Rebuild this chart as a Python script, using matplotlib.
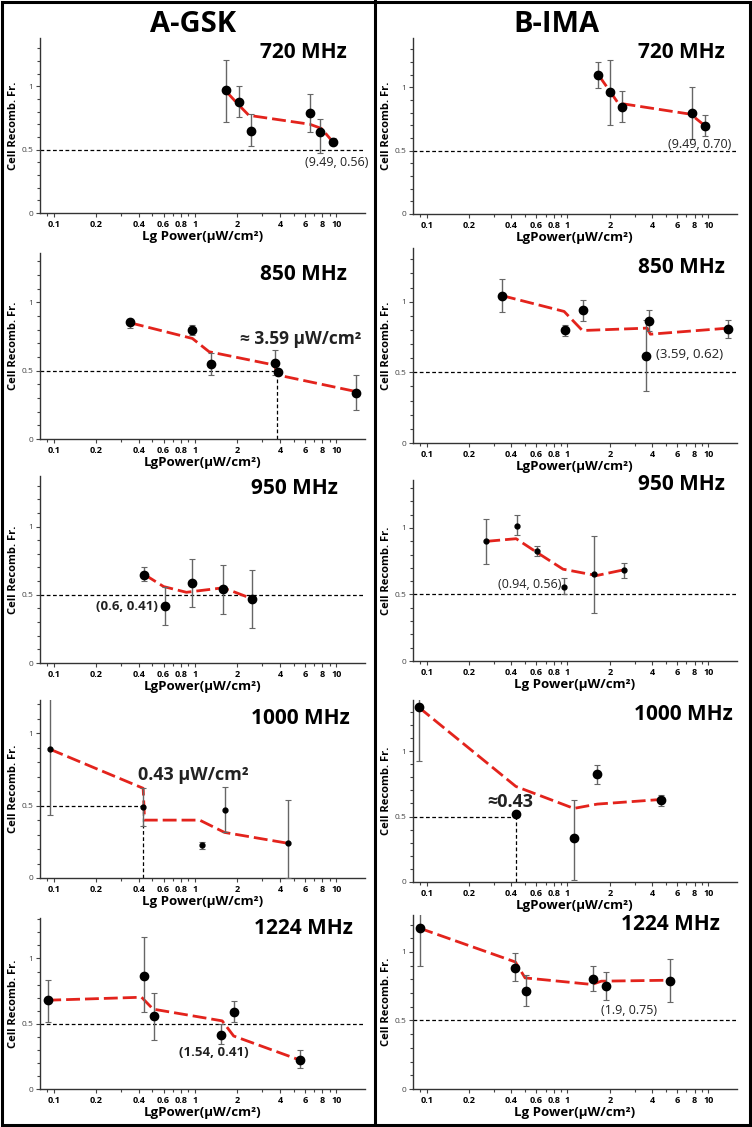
import matplotlib
matplotlib.use('Agg')
import matplotlib.pyplot as plt
from matplotlib.ticker import FixedLocator, MultipleLocator, NullFormatter
from matplotlib.lines import Line2D
from matplotlib.patches import Rectangle

plt.rcParams['font.family'] = ['Open Sans', 'DejaVu Sans']

# ---- data (power in uW/cm2, cell recombination fraction) ----
a720_x = [1.66, 2.05, 2.48, 6.56, 7.73, 9.49]
a720_y = [0.97, 0.876, 0.648, 0.785, 0.638, 0.562]
a720_lo = [0.72, 0.755, 0.53, 0.635, 0.476, 0.535]
a720_hi = [1.21, 1.00, 0.78, 0.94, 0.74, 0.59]
a720_fit_x = [1.66, 2.05, 2.41, 6.5, 7.85, 9.49]
a720_fit_y = [0.96, 0.85, 0.77, 0.70, 0.667, 0.56]

a850_x = [0.347, 0.95, 1.31, 3.66, 3.85, 13.9]
a850_y = [0.852, 0.80, 0.546, 0.558, 0.488, 0.34]
a850_lo = [0.815, 0.76, 0.47, 0.47, 0.465, 0.21]
a850_hi = [0.88, 0.83, 0.63, 0.65, 0.51, 0.47]
a850_fit_x = [0.347, 0.96, 1.26, 3.64, 3.85, 13.8]
a850_fit_y = [0.85, 0.735, 0.638, 0.541, 0.468, 0.347]

a950_x = [0.436, 0.61, 0.96, 1.58, 2.55]
a950_y = [0.647, 0.414, 0.584, 0.543, 0.47]
a950_lo = [0.60, 0.275, 0.41, 0.36, 0.26]
a950_hi = [0.70, 0.56, 0.76, 0.72, 0.68]
a950_fit_x = [0.436, 0.60, 0.87, 1.08, 1.56, 1.85, 2.55]
a950_fit_y = [0.65, 0.56, 0.518, 0.53, 0.55, 0.525, 0.47]

a1000_x = [0.094, 0.43, 1.13, 1.64, 4.55]
a1000_y = [0.892, 0.49, 0.225, 0.47, 0.24]
a1000_lo = [0.437, 0.36, 0.20, 0.315, 0.0]
a1000_hi = [1.40, 0.62, 0.25, 0.63, 0.54]
a1000_fit_x = [0.094, 0.43, 0.44, 1.08, 1.62, 4.55]
a1000_fit_y = [0.89, 0.62, 0.40, 0.40, 0.315, 0.24]

a1224_x = [0.0905, 0.435, 0.514, 1.54, 1.905, 5.52]
a1224_y = [0.682, 0.866, 0.558, 0.413, 0.592, 0.222]
a1224_lo = [0.517, 0.587, 0.375, 0.346, 0.517, 0.16]
a1224_hi = [0.837, 1.163, 0.736, 0.496, 0.677, 0.295]
a1224_fit_x = [0.09, 0.419, 0.505, 1.56, 1.88, 5.52]
a1224_fit_y = [0.68, 0.703, 0.612, 0.522, 0.406, 0.222]

b720_x = [1.66, 2.01, 2.44, 7.7, 9.49]
b720_y = [1.098, 0.966, 0.847, 0.796, 0.696]
b720_lo = [0.995, 0.70, 0.728, 0.595, 0.616]
b720_hi = [1.198, 1.22, 0.973, 1.0, 0.783]
b720_fit_x = [1.66, 1.99, 2.29, 7.5, 9.49]
b720_fit_y = [1.098, 0.974, 0.876, 0.788, 0.696]

b850_x = [0.343, 0.953, 1.30, 3.78, 3.64, 13.9]
b850_y = [1.038, 0.80, 0.938, 0.865, 0.618, 0.808]
b850_lo = [0.924, 0.76, 0.865, 0.796, 0.37, 0.742]
b850_hi = [1.16, 0.832, 1.01, 0.938, 0.867, 0.872]
b850_fit_x = [0.343, 0.947, 1.277, 3.68, 3.88, 13.9]
b850_fit_y = [1.043, 0.931, 0.796, 0.813, 0.77, 0.813]

b950_x = [0.265, 0.437, 0.607, 0.94, 1.54, 2.51]
b950_y = [0.899, 1.018, 0.829, 0.559, 0.652, 0.685]
b950_lo = [0.728, 0.945, 0.791, 0.50, 0.363, 0.627]
b950_hi = [1.07, 1.096, 0.866, 0.62, 0.937, 0.74]
b950_fit_x = [0.265, 0.432, 0.617, 0.93, 1.61, 2.51]
b950_fit_y = [0.899, 0.919, 0.811, 0.69, 0.642, 0.685]

b1000_x = [0.088, 0.43, 1.11, 1.63, 4.58]
b1000_y = [1.334, 0.519, 0.334, 0.828, 0.625]
b1000_lo = [0.924, 0.519, 0.018, 0.752, 0.58]
b1000_hi = [1.45, 0.519, 0.625, 0.896, 0.668]
b1000_fit_x = [0.088, 0.43, 1.11, 1.63, 4.58]
b1000_fit_y = [1.334, 0.73, 0.562, 0.595, 0.63]

b1224_x = [0.089, 0.425, 0.506, 1.53, 1.87, 5.34]
b1224_y = [1.174, 0.886, 0.717, 0.806, 0.753, 0.789]
b1224_lo = [0.898, 0.789, 0.608, 0.717, 0.649, 0.632]
b1224_hi = [1.45, 0.993, 0.835, 0.898, 0.855, 0.952]
b1224_fit_x = [0.089, 0.427, 0.50, 1.49, 1.74, 5.34]
b1224_fit_y = [1.174, 0.927, 0.811, 0.763, 0.787, 0.794]

freq_labels = ['720 MHz', '850 MHz', '950 MHz', '1000 MHz', '1224 MHz']
xtick_vals = [0.1, 0.2, 0.4, 0.6, 0.8, 1, 2, 4, 6, 8, 10]
xtick_text = ['0.1', '0.2', '0.4', '0.6', '0.8', '1', '2', '4', '6', '8', '10']

W, H = 752, 1127


def fx(x):
    return x / W


def fy(y):
    return 1 - y / H


fig = plt.figure(figsize=(W / 100, H / 100), dpi=100)

# panel list: data, axes box in pixels (left, right, top, bottom), y-top, extras
panels = [
    dict(d=(a720_x, a720_y, a720_lo, a720_hi, a720_fit_x, a720_fit_y), box=(40, 365, 38, 213), ytop=1.38,
         xl='Lg Power(μW/cm²)', title=(347, 52), note=('(9.49, 0.56)', 337, 163, 'normal', 9)),
    dict(d=(a850_x, a850_y, a850_lo, a850_hi, a850_fit_x, a850_fit_y), box=(40, 365, 253, 439), ytop=1.36,
         xl='LgPower(μW/cm²)', title=(347, 274), guide=3.8, note=('≈ 3.59 μW/cm²', 301, 339, 'bold', 12.5)),
    dict(d=(a950_x, a950_y, a950_lo, a950_hi, a950_fit_x, a950_fit_y), box=(40, 365, 476, 663), ytop=1.37,
         xl='LgPower(μW/cm²)', title=(338, 488), note=('(0.6, 0.41)', 127, 607, 'bold', 9.5)),
    dict(d=(a1000_x, a1000_y, a1000_lo, a1000_hi, a1000_fit_x, a1000_fit_y), box=(40, 365, 700, 878), ytop=1.23,
         xl='Lg Power(μW/cm²)', title=(350, 719), guide=0.43, small=True,
         note=('0.43 μW/cm²', 193, 775, 'bold', 13)),
    dict(d=(a1224_x, a1224_y, a1224_lo, a1224_hi, a1224_fit_x, a1224_fit_y), box=(40, 365, 918, 1089), ytop=1.31,
         xl='LgPower(μW/cm²)', title=(353, 929), note=('(1.54, 0.41)', 214, 1052, 'bold', 9.5)),
    dict(d=(b720_x, b720_y, b720_lo, b720_hi, b720_fit_x, b720_fit_y), box=(413, 737, 38, 214), ytop=1.39,
         xl='LgPower(μW/cm²)', title=(725, 52), note=('(9.49, 0.70)', 700, 145, 'normal', 9)),
    dict(d=(b850_x, b850_y, b850_lo, b850_hi, b850_fit_x, b850_fit_y), box=(413, 737, 248, 443), ytop=1.38,
         xl='LgPower(μW/cm²)', title=(725, 267), note=('(3.59, 0.62)', 690, 355, 'normal', 9.5)),
    dict(d=(b950_x, b950_y, b950_lo, b950_hi, b950_fit_x, b950_fit_y), box=(413, 737, 480, 661), ytop=1.36,
         xl='Lg Power(μW/cm²)', title=(725, 485), small=True, note=('(0.94, 0.56)', 530, 584, 'normal', 9)),
    dict(d=(b1000_x, b1000_y, b1000_lo, b1000_hi, b1000_fit_x, b1000_fit_y), box=(413, 737, 700, 882), ytop=1.39,
         xl='LgPower(μW/cm²)', title=(733, 714), guide=0.43, note=('≈0.43', 510, 802, 'bold', 13)),
    dict(d=(b1224_x, b1224_y, b1224_lo, b1224_hi, b1224_fit_x, b1224_fit_y), box=(413, 737, 915, 1089), ytop=1.27,
         xl='Lg Power(μW/cm²)', title=(720, 925), note=('(1.9, 0.75)', 629, 1011, 'normal', 9)),
]

for i, p in enumerate(panels):
    x, y, lo, hi, fxs, fys = p['d']
    L, R, T, B = p['box']
    ax = fig.add_axes([fx(L), fy(B), (R - L) / W, (B - T) / H])
    ax.set_xscale('log')
    ax.set_xlim(0.08, 16)
    ax.set_ylim(0, p['ytop'])
    for s in ['top', 'right']:
        ax.spines[s].set_visible(False)
    for s in ['left', 'bottom']:
        ax.spines[s].set_color('#333333')
        ax.spines[s].set_linewidth(1.0)

    ax.xaxis.set_major_locator(FixedLocator(xtick_vals))
    ax.set_xticklabels(xtick_text, fontsize=6.5, fontweight='bold')
    ax.xaxis.set_minor_locator(FixedLocator([0.09, 0.3, 0.5, 0.7, 0.9, 3, 5, 7, 9]))
    ax.xaxis.set_minor_formatter(NullFormatter())
    ax.yaxis.set_major_locator(FixedLocator([0, 0.5, 1]))
    ax.set_yticklabels(['0', '0.5', '1'], fontsize=6, color='#444444')
    ax.yaxis.set_minor_locator(MultipleLocator(0.1))
    ax.tick_params(which='both', direction='out', color='#444444', width=0.8)
    ax.tick_params(which='major', length=3, pad=2)
    ax.tick_params(which='minor', length=2)

    # reference 0.5 line(s)
    if 'guide' in p:
        g = p['guide']
        ax.plot([0.08, g], [0.5, 0.5], ls='--', color='k', lw=0.9, dashes=(3, 2))
        ax.plot([g, g], [0, 0.5], ls='--', color='k', lw=0.9, dashes=(3, 2))
    else:
        ax.axhline(0.5, ls='--', color='k', lw=0.9, dashes=(3, 2))

    ax.plot(fxs, fys, color='#e3231c', lw=2.0, dashes=(5, 1.8), zorder=3)
    yerr = [[yy - l for yy, l in zip(y, lo)], [h - yy for yy, h in zip(y, hi)]]
    ms = 3.5 if p.get('small') else 6
    ax.errorbar(x, y, yerr=yerr, fmt='o', color='k', ms=ms, ecolor='#666666',
                elinewidth=1.0, capsize=2, capthick=0.8, zorder=4, clip_on=True)

    ax.set_xlabel(p['xl'], fontsize=9.5, fontweight='bold', labelpad=1)
    ax.set_ylabel('Cell Recomb. Fr.', fontsize=8, fontweight='bold')
    ax.yaxis.set_label_coords(-21 / (R - L), 0.5)

    tx, ty = p['title']
    fig.text(fx(tx), fy(ty), freq_labels[i % 5], fontsize=15, fontweight='bold',
             ha='right', va='center')
    txt, nx, ny, nw, ns = p['note']
    fig.text(fx(nx), fy(ny), txt, fontsize=ns, fontweight=nw, ha='center', va='center',
             color='#222222')

fig.text(fx(193), fy(24), 'A-GSK', fontsize=21, fontweight='bold', ha='center', va='center')
fig.text(fx(556), fy(24), 'B-IMA', fontsize=21, fontweight='bold', ha='center', va='center')

# outer frame and column divider
fig.add_artist(Rectangle((fx(2), fy(1125)), (W - 4) / W, (1123) / H, fill=False,
                         edgecolor='k', lw=2.2, transform=fig.transFigure))
fig.add_artist(Line2D([fx(375), fx(375)], [0, 1], color='k', lw=2.2, transform=fig.transFigure))

fig.savefig('out.png', dpi=100)
